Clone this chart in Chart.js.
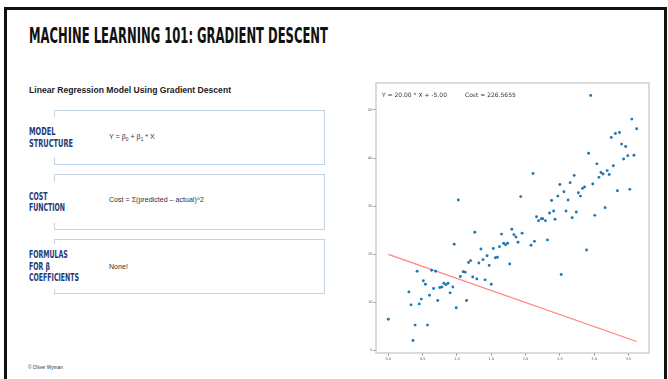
<!DOCTYPE html>
<html>
<head>
<meta charset="utf-8">
<script src="https://cdn.jsdelivr.net/npm/chart.js@4.4.0/dist/chart.umd.min.js"></script>
<style>
  html, body { margin: 0; padding: 0; }
  body { width: 668px; height: 379px; overflow: hidden; background: #fff; position: relative; font-family: "Liberation Sans", Arial, sans-serif; }
  .frame { position: absolute; left: 4px; top: 7px; width: 657px; height: 400px; border: 3px solid #111; }
  .title { position: absolute; left: 29px; top: 24px; font-family: "Liberation Sans Narrow", "DejaVu Sans Condensed", sans-serif; font-weight: bold; font-size: 21px; color: #111; white-space: nowrap; transform-origin: left top; }
  .subtitle { position: absolute; left: 29px; top: 85px; font-weight: bold; font-size: 8.6px; color: #222; white-space: nowrap; }
  .box { position: absolute; left: 54px; width: 271px; border: 1px solid #c3d3e6; box-sizing: border-box; }
  .mask { position: absolute; left: 50px; width: 10px; background: #fff; }
  .label { position: absolute; left: 29px; display: flex; flex-direction: column; justify-content: center; font-family: "Liberation Sans Narrow", "DejaVu Sans Condensed", sans-serif; font-weight: bold; font-size: 10.5px; line-height: 11.5px; color: #1e3a78; white-space: nowrap; transform-origin: left center; }
  .content { position: absolute; left: 109px; font-size: 7.1px; color: #333; white-space: nowrap; display: flex; align-items: center; }
  .content sub { font-size: 4.8px; vertical-align: -1.5px; }
  .footer { position: absolute; left: 28px; top: 365px; font-size: 4.8px; color: #333; }
  .chartbox { position: absolute; left: 356px; top: 78px; width: 300px; height: 292px; }
  .note { position: absolute; top: 91px; font-family: "DejaVu Sans", sans-serif; font-size: 6px; color: #333; white-space: nowrap; }
</style>
</head>
<body>
<div class="frame"></div>
<div class="title" id="title">MACHINE LEARNING 101: GRADIENT DESCENT</div>
<div class="subtitle">Linear Regression Model Using Gradient Descent</div>

<div class="box" style="top:110px;height:55px;"></div>
<div class="mask" style="top:117px;height:40px;"></div>
<div class="label" style="top:110px;height:55px;">MODEL<br>STRUCTURE</div>
<div class="content" style="top:110px;height:54px;"><span>Y = β<sub>0</sub>&nbsp;+ β<sub>1</sub>&nbsp;* X</span></div>

<div class="box" style="top:174px;height:56px;"></div>
<div class="mask" style="top:182px;height:41px;"></div>
<div class="label" style="top:174px;height:56px;">COST<br>FUNCTION</div>
<div class="content" style="top:174px;height:51px;"><span>Cost = Σ(predicted – actual)^2</span></div>

<div class="box" style="top:239px;height:55px;"></div>
<div class="mask" style="top:244px;height:45px;"></div>
<div class="label" style="top:239px;height:55px;">FORMULAS<br>FOR β<br>COEFFICIENTS</div>
<div class="content" style="top:239px;height:55px;"><span>None!</span></div>

<div class="footer">© Oliver Wyman</div>

<div class="chartbox"><canvas id="chart"></canvas></div>
<div class="note" style="left:382px;">Y = 20.00 * X + -5.00</div>
<div class="note" style="left:465px;">Cost = 226.5655</div>

<script>
// scatter data
const pointsX = [
  0.00, 0.30, 0.33, 0.36, 0.39, 0.42, 0.45, 0.48, 0.51, 0.54,
  0.57, 0.60, 0.63, 0.66, 0.69, 0.72, 0.75, 0.78, 0.81, 0.84,
  0.87, 0.90, 0.94, 0.96, 0.99, 1.02, 1.05, 1.09, 1.12, 1.14,
  1.17, 1.20, 1.23, 1.26, 1.29, 1.32, 1.35, 1.38, 1.41, 1.44,
  1.47, 1.50, 1.53, 1.56, 1.59, 1.62, 1.65, 1.68, 1.71, 1.74,
  1.77, 1.80, 1.83, 1.86, 1.89, 1.93, 1.95, 2.08, 2.11, 2.13,
  2.16, 2.19, 2.23, 2.25, 2.29, 2.32, 2.35, 2.38, 2.41, 2.43,
  2.47, 2.50, 2.52, 2.56, 2.59, 2.62, 2.65, 2.68, 2.71, 2.74,
  2.77, 2.80, 2.83, 2.86, 2.89, 2.92, 2.95, 2.98, 3.01, 3.04,
  3.07, 3.10, 3.13, 3.16, 3.19, 3.22, 3.25, 3.28, 3.31, 3.34,
  3.37, 3.40, 3.43, 3.46, 3.49, 3.52, 3.55, 3.58, 3.62
];
const pointsY = [
  6.5, 12.2, 9.5, 2.1, 5.3, 16.5, 9.7, 10.7, 14.5, 13.8,
  5.3, 11.5, 16.7, 12.9, 16.5, 10.4, 13.1, 13.2, 14.0, 13.7,
  14.0, 12.0, 13.2, 22.1, 8.9, 31.3, 15.4, 16.4, 16.3, 10.4,
  18.3, 18.7, 15.3, 24.6, 14.9, 18.2, 21.1, 18.9, 14.7, 19.7,
  17.7, 13.8, 21.2, 19.3, 19.4, 21.6, 24.2, 22.3, 22.0, 22.3,
  18.0, 25.2, 24.1, 23.6, 22.5, 32.0, 24.4, 21.9, 36.8, 22.7,
  27.8, 27.0, 27.4, 27.4, 27.0, 23.0, 28.6, 31.2, 29.0, 27.3,
  32.1, 34.5, 15.8, 33.0, 29.0, 31.3, 34.9, 27.6, 36.4, 28.8,
  32.8, 32.1, 33.7, 34.0, 20.9, 41.0, 53.0, 34.6, 28.1, 38.8,
  36.0, 37.0, 36.7, 29.7, 37.4, 36.6, 44.3, 38.4, 45.1, 33.2,
  45.3, 42.9, 39.8, 42.4, 40.5, 33.5, 48.1, 40.6, 46.1
];
// current fitted line drawn on the plot
const lineX = [0, 3.62];
const lineY = [20.0, 1.9];

const xTicks = [0.0, 0.5, 1.0, 1.5, 2.0, 2.5, 3.0, 3.5];
const yTicks = [0, 10, 20, 30, 40, 50];

// squeeze the condensed headings to the reference width
function fitWidth(el, target) {
  const w = el.getBoundingClientRect().width;
  el.style.transform = "scaleX(" + (target / w) + ")";
}
fitWidth(document.getElementById("title"), 299);
document.querySelectorAll(".label").forEach((el) => {
  const t = el.textContent;
  let target = 44;
  if (t.indexOf("COEFFICIENTS") >= 0) target = 50;
  else if (t.indexOf("FUNCTION") >= 0) target = 36;
  fitWidth(el, target);
});

const frame = {
  id: "frame",
  afterDraw(chart) {
    const a = chart.chartArea;
    const ctx = chart.ctx;
    ctx.save();
    ctx.strokeStyle = "#cfcfcf";
    ctx.lineWidth = 1.5;
    ctx.strokeRect(a.left, a.top, a.right - a.left, a.bottom - a.top);
    ctx.restore();
  },
};

const tickFont = { family: "DejaVu Sans", size: 3.5 };

new Chart(document.getElementById("chart"), {
  type: "scatter",
  data: {
    datasets: [
      {
        data: pointsX.map((x, i) => ({ x: x, y: pointsY[i] })),
        backgroundColor: "#1f77b4",
        borderWidth: 0,
        pointRadius: 1.45,
      },
      {
        type: "line",
        data: lineX.map((x, i) => ({ x: x, y: lineY[i] })),
        borderColor: "rgba(255, 100, 100, 0.8)",
        borderWidth: 1.2,
        pointRadius: 0,
        fill: false,
      },
    ],
  },
  options: {
    responsive: true,
    maintainAspectRatio: false,
    animation: false,
    layout: { padding: { top: 5, right: 7, left: 0, bottom: 0 } },
    plugins: { legend: { display: false }, tooltip: { enabled: false } },
    scales: {
      x: {
        type: "linear",
        min: -0.18,
        max: 3.8,
        afterBuildTicks: (s) => { s.ticks = xTicks.map((v) => ({ value: v })); },
        afterFit: (s) => { s.height = 17; },
        grid: { drawOnChartArea: false, drawTicks: true, tickLength: 2.5, color: "#888" },
        border: { display: false },
        ticks: { font: tickFont, color: "#555", padding: 1, maxRotation: 0, callback: (v) => v.toFixed(1) },
      },
      y: {
        type: "linear",
        min: -0.5,
        max: 55.6,
        afterBuildTicks: (s) => { s.ticks = yTicks.map((v) => ({ value: v })); },
        afterFit: (s) => { s.width = 20; },
        grid: { drawOnChartArea: false, drawTicks: true, tickLength: 2.5, color: "#888" },
        border: { display: false },
        ticks: { font: tickFont, color: "#555", padding: 1 },
      },
    },
  },
  plugins: [frame],
});
</script>
</body>
</html>
